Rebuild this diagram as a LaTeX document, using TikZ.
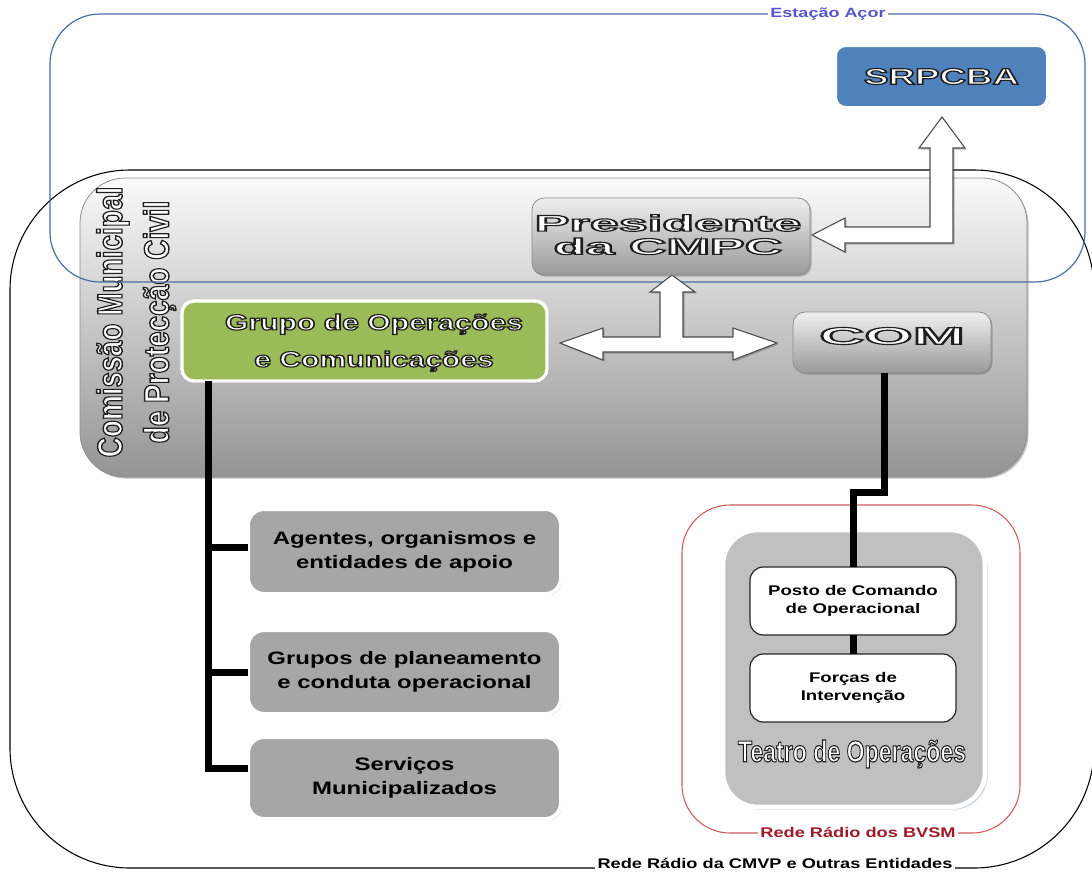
\documentclass[tikz,border=0pt]{standalone}
\usepackage{fontspec}
\setmainfont{Liberation Sans}
\usepackage{graphicx}
\usetikzlibrary{shadows}
\definecolor{cgreen}{RGB}{155,187,89}
\definecolor{cblue}{RGB}{79,129,189}
\definecolor{cblueline}{RGB}{75,110,165}
\definecolor{clabel}{RGB}{85,85,205}
\definecolor{credline}{RGB}{205,90,90}
\definecolor{credtext}{RGB}{160,25,40}
\definecolor{cgraybox}{RGB}{166,166,166}
\definecolor{cteatro}{RGB}{192,192,192}
\newcommand\stk[3]{\scalebox{#1}[#2]{\begin{tabular}{@{}c@{}}#3\end{tabular}}}
\newcommand\sx[2]{\scalebox{#1}[1]{#2}}
\newcommand\ol[1]{\special{pdf:literal direct 0.12 G 2 Tr 0.85 w}#1\special{pdf:literal direct 0 Tr}}
\begin{document}
\begin{tikzpicture}[x=0.75pt,y=-0.75pt,
  every node/.style={inner sep=0pt, outer sep=0pt},
  sz/.style 2 args={minimum width={#1*0.75pt}, minimum height={#2*0.75pt}},
  softshadow/.style={drop shadow={shadow xshift=1.2pt,shadow yshift=-1.2pt,opacity=0.35,fill=black!70}},
  greybig/.style={rounded corners=33.75pt, draw=black!45, line width=0.6pt, top color=black!2, bottom color=black!42, softshadow},
  presbox/.style={rounded corners=9pt, draw=black!45, line width=0.6pt, top color=black!6, bottom color=black!40, softshadow},
  greenbox/.style={rounded corners=9pt, draw=white, line width=2.5pt, fill=cgreen, softshadow},
  bluebox/.style={rounded corners=8pt, draw=white, line width=3pt, fill=cblue, softshadow},
  graybox/.style={rounded corners=12pt, draw=white, line width=3pt, fill=cgraybox, softshadow},
  teatrobox/.style={rounded corners=26pt, draw=white, line width=3.5pt, fill=cteatro, drop shadow={shadow xshift=2pt, shadow yshift=-2pt, opacity=0.5, fill=cblueline!60}},
  whitebox/.style={rounded corners=10pt, draw=black!85, line width=0.9pt, fill=white},
  conn/.style={line width=5.25pt, black},
  blockarrow/.style={draw=black!70, line width=0.8pt, fill=white, softshadow},
  frameblue/.style={draw=cblueline, line width=0.9pt, rounded corners=37.5pt},
  framered/.style={draw=credline, line width=0.8pt, rounded corners=36pt},
  frameblack/.style={draw=black, line width=0.8pt, rounded corners=90pt},
  lbl/.style={fill=white, inner sep=2pt, font=\bfseries\fontsize{10.5}{12}\selectfont}
]
\useasboundingbox (0,0) rectangle (1092,872);
% frames
\draw[frameblack] (10,170) rectangle (1094,868);
\draw[framered] (682,505) rectangle (1020,833);
\node[greybig, sz={947}{299}] (cmpc) at (553.5,327.5) {};
\node[rotate=90, text=white, font=\bfseries\fontsize{21}{28}\selectfont] (cmpctxt) at (136,322)
  {\stk{1}{1.25}{\ol{Comissão Municipal}\\ \ol{de Protecção Civil}}};
\draw[frameblue] (50,14) rectangle (1085,282);
\node[lbl, text=clabel, font=\bfseries\fontsize{10}{12}\selectfont] (estacao) at (828,14) {\sx{1.35}{Estação Açor}};
\node[lbl, text=credtext] (bvsm) at (858,832) {\sx{1.3}{Rede Rádio dos BVSM}};
\node[lbl] (cmvp) at (775,863) {\sx{1.3}{Rede Rádio da CMVP e Outras Entidades}};
% block arrows
\draw[blockarrow] (942,117) -- (965,148) -- (953,148) -- (953,243) -- (845,243) -- (845,252) -- (812,235)
  -- (845,218) -- (845,227) -- (930,227) -- (930,148) -- (919,148) -- cycle;
\draw[blockarrow] (560,343) -- (603,328) -- (603,337) -- (660,337) -- (660,292) -- (650,292) -- (672,275)
  -- (695,292) -- (683,292) -- (683,337) -- (733,337) -- (733,328) -- (777,343) -- (733,360) -- (733,352)
  -- (603,352) -- (603,360) -- cycle;
% boxes
\node[bluebox, sz={213}{63}, text=white, font=\bfseries\fontsize{17}{20}\selectfont] (srpcba) at (941.5,76.5)
  {\sx{1.62}{\ol{SRPCBA}}};
\node[presbox, sz={278}{77}] (pres) at (671,236.5) {};
\node[text=white, font=\bfseries\fontsize{17}{17.25}\selectfont] (prestxt) at (668,238)
  {\stk{2.3}{1}{\ol{Presidente}\\ \ol{da CMPC}}};
\node[greenbox, sz={365}{80}] (grupo) at (364.5,341) {};
\node[text=white, font=\bfseries\fontsize{16.5}{27.75}\selectfont] (grupotxt) at (374,341)
  {\stk{1.37}{1}{\ol{Grupo de Operações}\\ \ol{e Comunicações}}};
\node[presbox, sz={198}{61}] (com) at (892,342.5) {};
\node[text=white, font=\bfseries\fontsize{18}{20}\selectfont] (comtxt) at (892,336) {\sx{2.6}{\ol{COM}}};
\node[graybox, sz={313}{85}, font=\bfseries\fontsize{13.5}{18}\selectfont] (agentes) at (404.5,551.5)
  {\stk{1.33}{1}{Agentes, organismos e\\ entidades de apoio}};
\node[graybox, sz={313}{84}, font=\bfseries\fontsize{13.5}{18}\selectfont] (grupos) at (404.5,672)
  {\stk{1.33}{1}{Grupos de planeamento\\ e conduta operacional}};
\node[graybox, sz={313}{82}, font=\bfseries\fontsize{13.5}{18}\selectfont] (serv) at (404.5,778)
  {\stk{1.33}{1}{Serviços\\ Municipalizados}};
\node[teatrobox, sz={262}{277}] (teatro) at (854,668.5) {};
\node[text=white, font=\bfseries\fontsize{22.5}{24}\selectfont] (teatrotxt) at (852,754) {\sx{0.77}{\ol{Teatro de Operações}}};
\node[whitebox, sz={206}{68}, font=\bfseries\fontsize{10.5}{13.5}\selectfont] (posto) at (853,601)
  {\stk{1.33}{1}{Posto de Comando\\ de Operacional}};
\node[whitebox, sz={206}{68}, font=\bfseries\fontsize{10.5}{13.5}\selectfont] (forcas) at (853,688)
  {\stk{1.33}{1}{Forças de\\ Intervenção}};
% connectors
\coordinate (gdown) at ([xshift=20pt]grupo.south west);
\draw[conn] (gdown) |- ([yshift=7.5pt]serv.west);
\draw[conn] (gdown |- agentes.west) ++(0,-4) -- ([yshift=3pt]agentes.west);
\draw[conn] (gdown |- grupos.west) -- (grupos.west);
\coordinate (bendy) at (0,492);
\draw[conn] ([xshift=-6pt]com.south) |- (posto.north |- bendy) -- (posto.north);
\draw[conn] (posto.south) -- (forcas.north);
\end{tikzpicture}
\end{document}
